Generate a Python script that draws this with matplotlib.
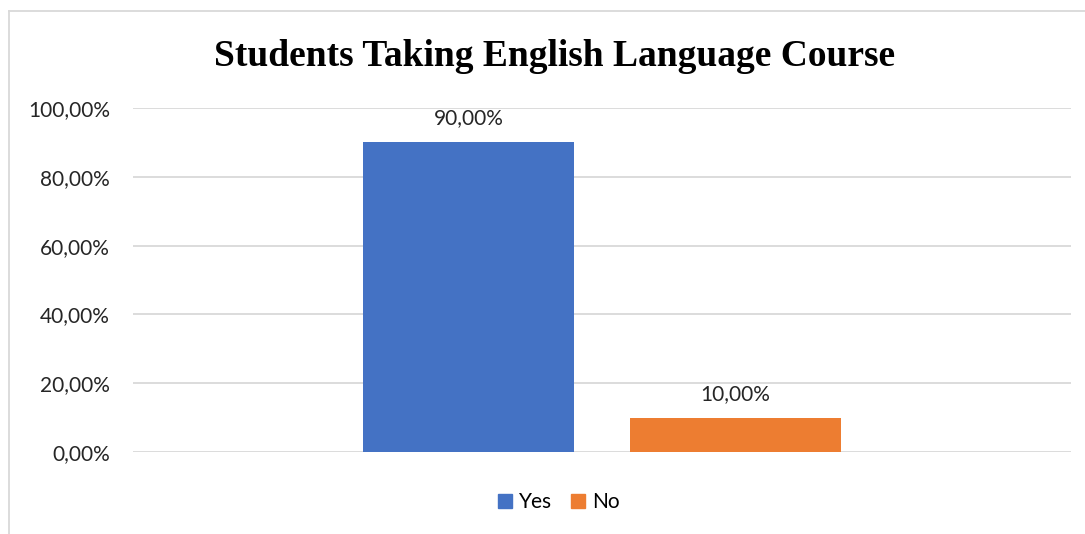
import matplotlib.pyplot as plt
from matplotlib.lines import Line2D
from matplotlib.patches import Patch

series = ["Yes", "No"]
values = [0.90, 0.10]
colors = ["#4472C4", "#ED7D31"]
yticks = [0.0, 0.2, 0.4, 0.6, 0.8, 1.0]

W, H = 1085, 534
fig = plt.figure(figsize=(W / 100, H / 100), dpi=100)
ax = fig.add_axes([133 / W, 1 - 452 / H, (1071 - 133) / W, (452 - 108) / H])

bar_w = 0.225
gap = 0.06
offsets = [-(bar_w + gap) / 2, (bar_w + gap) / 2]
for off, v, c in zip(offsets, values, colors):
    ax.bar(off, v, width=bar_w, color=c, zorder=3)
    label = f"{v * 100:.2f}%".replace(".", ",")
    ax.annotate(label, (off, v), xytext=(0, 10), textcoords="offset points",
                ha="center", va="bottom", fontsize=15, family="Lato", color="#262626")

ax.set_xlim(-0.5, 0.5)
ax.set_ylim(0, 1.0)
ax.set_yticks(yticks)
ax.set_yticklabels([f"{t * 100:.2f}%".replace(".", ",") for t in yticks],
                   fontsize=15, family="Lato", color="#262626")
ax.set_xticks([])
ax.grid(axis="y", color="#D9D9D9", linewidth=1.3, zorder=0)
ax.tick_params(axis="y", length=0, pad=16.5)
for s in ax.spines.values():
    s.set_visible(False)

fig.text(554.5 / W, 1 - 57 / H, "Students Taking English Language Course",
         ha="center", va="center", fontsize=27, fontweight="bold", family="Liberation Serif")

handles = [Patch(color=c, label=s) for s, c in zip(series, colors)]
fig.legend(handles=handles, loc="center", bbox_to_anchor=(559 / W, 1 - 502 / H), ncol=2,
           frameon=False, prop={"family": "Lato", "size": 15},
           handlelength=0.65, handleheight=0.65, handletextpad=0.35, columnspacing=0.9)

# chart frame (top and left edges visible)
fig.add_artist(Line2D([9 / W, 9 / W], [0, 1 - 11 / H], transform=fig.transFigure,
                      color="#D9D9D9", linewidth=1.3))
fig.add_artist(Line2D([9 / W, 1], [1 - 11 / H, 1 - 11 / H], transform=fig.transFigure,
                      color="#D9D9D9", linewidth=1.3))

fig.savefig("out.png", dpi=100)
